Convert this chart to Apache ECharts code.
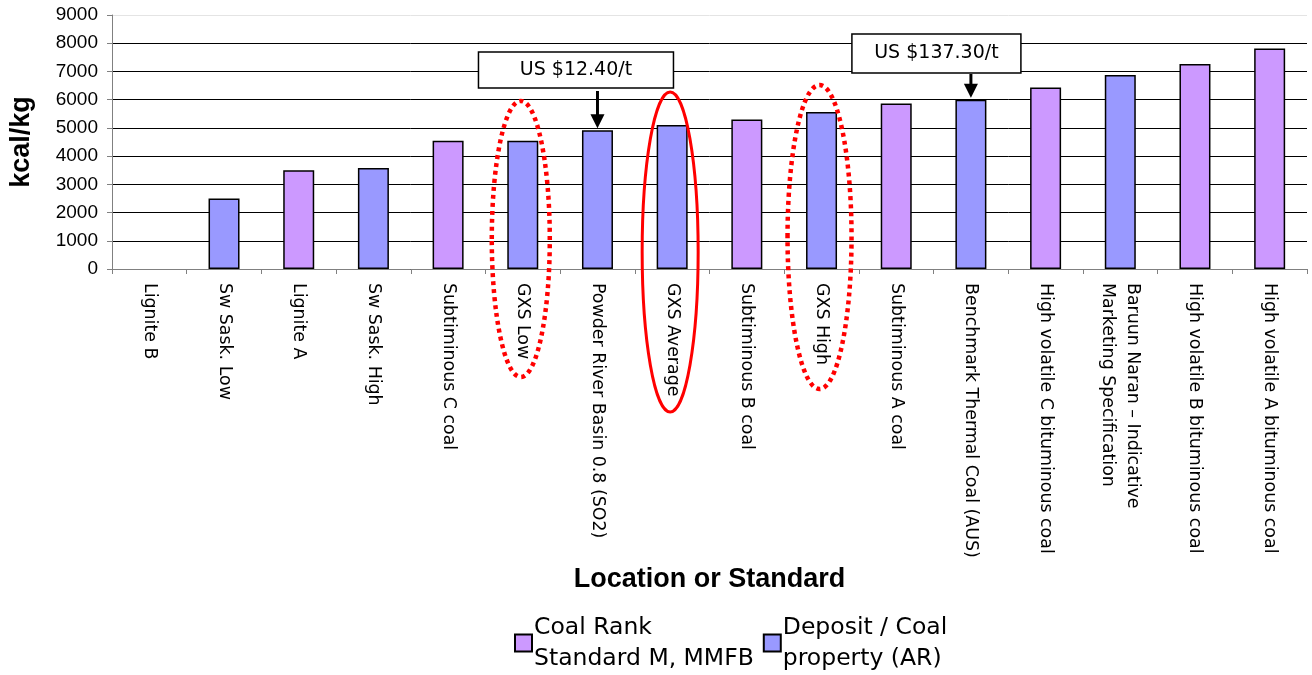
<!DOCTYPE html>
<html>
<head>
<meta charset="utf-8">
<script src="https://cdn.jsdelivr.net/npm/echarts@6/dist/echarts.min.js"></script>
<style>html,body{margin:0;padding:0;background:#fff}#c{width:1312px;height:675px}</style>
</head>
<body>
<div id="c"></div>
<script>
const categories = [
  "Lignite B",
  "Sw Sask. Low",
  "Lignite A",
  "Sw Sask. High",
  "Subtiminous C coal",
  "GXS Low",
  "Powder River Basin 0.8 (SO2)",
  "GXS Average",
  "Subtiminous B coal",
  "GXS High",
  "Subtiminous A coal",
  "Benchmark Thermal Coal (AUS)",
  "High volatile C bituminous coal",
  "Baruun Naran \u2013 Indicative\nMarketing Specification",
  "High volatile B bituminous coal",
  "High volatile A bituminous coal"
];
const coalRankValues = ['-', '-', 3500, '-', 4540, '-', '-', '-', 5300, '-', 5860, '-', 6430, '-', 7260, 7810];
const depositValues  = ['-', 2500, '-', 3580, '-', 4540, 4920, 5100, '-', 5560, '-', 6000, '-', 6870, '-', '-'];
const yTicks = [0, 1000, 2000, 3000, 4000, 5000, 6000, 7000, 8000, 9000];
const seriesNames = ["Coal Rank\nStandard M, MMFB", "Deposit / Coal\nproperty (AR)"];
const priceNotes = [
  { category: "Powder River Basin 0.8 (SO2)", value: 4920, text: "US $12.40/t" },
  { category: "Benchmark Thermal Coal (AUS)", value: 6000, text: "US $137.30/t" }
];
const circled = [
  { category: "GXS Low", dotted: true },
  { category: "GXS Average", dotted: false },
  { category: "GXS High", dotted: true }
];

const chart = echarts.init(document.getElementById('c'), null, { renderer: 'canvas' });
const tahoma = 'DejaVu Sans';
const gridColors = yTicks.map((t, i) => i === yTicks.length - 1 ? '#e4e4e4' : '#000');

chart.setOption({
  animation: false,
  backgroundColor: '#fff',
  grid: { left: 112, right: 5, top: 15, bottom: 406, containLabel: false },
  legend: {
    left: 509, top: 607,
    itemWidth: 17, itemHeight: 17, itemGap: 9,
    icon: 'rect',
    textStyle: { fontFamily: tahoma, fontSize: 23.5, color: '#000', lineHeight: 31, padding: [0, 0, 0, -3] },
    data: seriesNames
  },
  xAxis: {
    type: 'category',
    data: categories,
    name: 'Location or Standard',
    nameLocation: 'middle',
    nameGap: 297,
    nameTextStyle: { fontFamily: 'Liberation Sans', fontWeight: 'bold', fontSize: 27, color: '#000' },
    axisLine: { lineStyle: { color: '#808080', width: 1 } },
    axisTick: { show: true, length: 5, lineStyle: { color: '#808080' } },
    axisLabel: { rotate: -90, margin: 14, interval: 0, fontFamily: tahoma, fontSize: 17.4, color: '#000', lineHeight: 25, padding: [0, 0, 6, 0] }
  },
  yAxis: {
    type: 'value',
    min: 0, max: 9000, interval: 1000,
    name: 'kcal/kg',
    nameLocation: 'middle',
    nameGap: 77,
    nameTextStyle: { fontFamily: 'Liberation Sans', fontWeight: 'bold', fontSize: 27, color: '#000' },
    axisLine: { show: true, lineStyle: { color: '#808080', width: 1 } },
    axisTick: { show: true, length: 5, lineStyle: { color: '#808080' } },
    axisLabel: { margin: 14, fontFamily: 'Liberation Sans', fontSize: 19, color: '#000', formatter: v => String(v) },
    splitLine: { show: true, lineStyle: { color: gridColors, width: 1 } }
  },
  series: [
    {
      name: seriesNames[0], type: 'bar', stack: 'one', data: coalRankValues, barWidth: 31,
      itemStyle: { color: '#CC99FF', borderColor: '#000', borderWidth: 1.5 }
    },
    {
      name: seriesNames[1], type: 'bar', stack: 'one', data: depositValues, barWidth: 31,
      itemStyle: { color: '#9999FF', borderColor: '#000', borderWidth: 1.5 }
    }
  ]
});

// annotations placed from the axes' own scales
const graphics = [];
const boxShape = [
  { dx: -119, top: 52, w: 195, h: 36, arrowTop: 91 },
  { dx: -119, top: 34, w: 169, h: 39, arrowTop: 74 }
];
priceNotes.forEach((n, i) => {
  const p = chart.convertToPixel({ xAxisIndex: 0, yAxisIndex: 0 }, [n.category, n.value]);
  const b = boxShape[i];
  const tipY = p[1] - 2;
  graphics.push({
    type: 'group', z: 100, children: [
      { type: 'rect', shape: { x: p[0] + b.dx, y: b.top, width: b.w, height: b.h },
        style: { fill: '#fff', stroke: '#000', lineWidth: 1.5 } },
      { type: 'text', style: { x: p[0] + b.dx + b.w / 2, y: b.top + b.h / 2, text: n.text,
        fontFamily: tahoma, fontSize: 19, fill: '#000', align: 'center', verticalAlign: 'middle' } },
      { type: 'line', shape: { x1: p[0], y1: b.arrowTop, x2: p[0], y2: tipY - 12 },
        style: { stroke: '#000', lineWidth: 3 } },
      { type: 'polygon', shape: { points: [[p[0] - 7, tipY - 14], [p[0] + 7, tipY - 14], [p[0], tipY]] },
        style: { fill: '#000' } }
    ]
  });
});
const ellShape = [
  { cy: 239, rx: 29, ry: 138 },
  { cy: 252, rx: 28, ry: 160 },
  { cy: 237, rx: 32, ry: 152 }
];
circled.forEach((c, i) => {
  const p = chart.convertToPixel({ xAxisIndex: 0, yAxisIndex: 0 }, [c.category, 0]);
  const e = ellShape[i];
  graphics.push({
    type: 'ellipse', z: 101,
    shape: { cx: p[0] - 2, cy: e.cy, rx: e.rx, ry: e.ry },
    style: c.dotted
      ? { fill: 'none', stroke: '#FF0000', lineWidth: 4.5, lineDash: [4, 4] }
      : { fill: 'none', stroke: '#FF0000', lineWidth: 3 }
  });
});
chart.setOption({ graphic: graphics });
</script>
</body>
</html>
